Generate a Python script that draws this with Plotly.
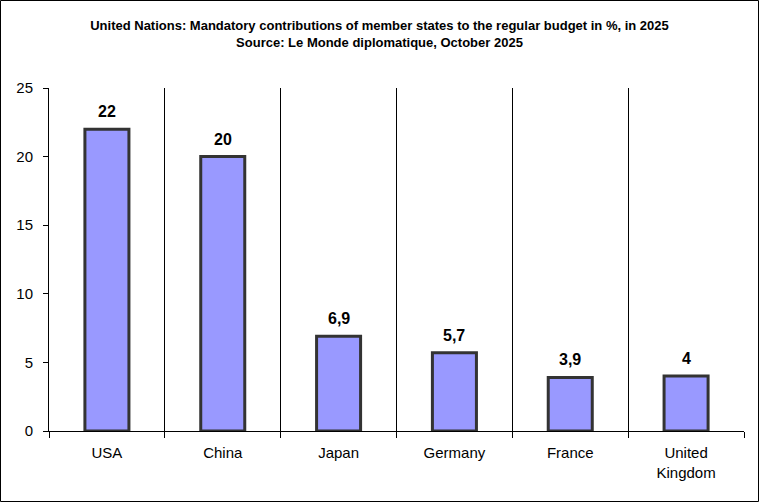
import plotly.graph_objects as go

# data
countries = ["USA", "China", "Japan", "Germany", "France", "United<br>Kingdom"]
shares = [22, 20, 6.9, 5.7, 3.9, 4]
labels = [str(v).replace(".", ",") for v in shares]

W, H = 759, 502
ml, mr, mt, mb = 49, 15, 88, 71
pw, ph = W - ml - mr, H - mt - mb

fig = go.Figure()
fig.add_trace(go.Bar(
    x=countries, y=shares, width=0.38,
    marker=dict(color="#9999FF", line=dict(color="#333333", width=3)),
    hoverinfo="x+y",
))

# value labels above the bars
for c, v, t in zip(countries, shares, labels):
    fig.add_annotation(x=c, y=v, text="<b>" + t + "</b>", showarrow=False,
                       yanchor="bottom", yshift=7,
                       font=dict(family="Liberation Sans, Arial", size=16, color="black"))

fig.update_layout(
    width=W, height=H,
    margin=dict(l=ml, r=mr, t=mt, b=mb),
    paper_bgcolor="white", plot_bgcolor="white",
    showlegend=False,
    font=dict(family="Liberation Sans, Arial", size=15, color="black"),
    title=dict(
        text="<b>United Nations: Mandatory contributions of member states to the regular budget in %, in 2025"
             "<br>Source: Le Monde diplomatique, October 2025</b>",
        x=0.5, xref="container", xanchor="center",
        y=1 - 30 / H, yref="container", yanchor="top",
        font=dict(family="Liberation Sans, Arial", size=13, color="black"),
    ),
)
# outer frame around the whole picture
fig.add_shape(type="rect", xref="paper", yref="paper",
              x0=(0.5 - ml) / pw, x1=(W - 0.5 - ml) / pw,
              y0=-(mb - 0.5) / ph, y1=1 + (mt - 0.5) / ph,
              line=dict(color="black", width=1), layer="above")

fig.update_xaxes(type="category", tickson="boundaries", showgrid=True,
                 gridcolor="black", gridwidth=1, showline=True, linecolor="black",
                 linewidth=1, ticks="outside", ticklen=6, tickcolor="black",
                 ticklabelstandoff=8, zeroline=False)
fig.update_yaxes(range=[0, 25], dtick=5, showgrid=False, showline=True,
                 linecolor="black", linewidth=1, ticks="outside", ticklen=5,
                 tickcolor="black", zeroline=False, ticklabelstandoff=7)

fig.write_html("out.html", config={"displayModeBar": False},
               post_script="document.body.style.margin='0';")
